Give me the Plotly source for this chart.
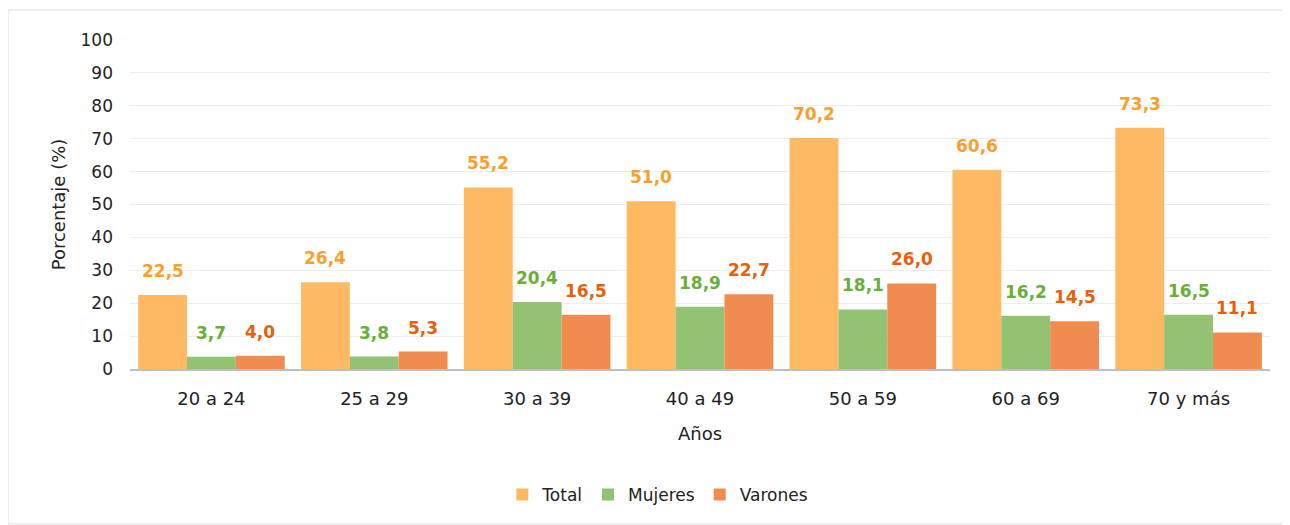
import plotly.graph_objects as go

categories = ["20 a 24", "25 a 29", "30 a 39", "40 a 49", "50 a 59", "60 a 69", "70 y más"]
total = [22.5, 26.4, 55.2, 51.0, 70.2, 60.6, 73.3]
mujeres = [3.7, 3.8, 20.4, 18.9, 18.1, 16.2, 16.5]
varones = [4.0, 5.3, 16.5, 22.7, 26.0, 14.5, 11.1]

series = [
    ("Total", total, "#FFB963", "#F7A030"),
    ("Mujeres", mujeres, "#93C273", "#6AAE3A"),
    ("Varones", varones, "#F08C50", "#E8600A"),
]

FONT = "'DejaVu Sans', sans-serif"
BAR_W = 0.9 / 3

fig = go.Figure()
annotations = []
for j, (name, vals, col, lcol) in enumerate(series):
    fig.add_trace(go.Bar(
        x=categories, y=vals, name=name,
        marker=dict(color=col, line=dict(width=0)),
    ))
    for i, v in enumerate(vals):
        annotations.append(dict(
            x=i + (j - 1) * BAR_W, y=v, xref="x", yref="y",
            text=f"{v:.1f}".replace(".", ","), showarrow=False,
            yanchor="bottom", yshift=12,
            font=dict(color=lcol, size=17, family=FONT, weight="bold"),
        ))

fig.update_layout(
    width=1282, height=517,
    margin=dict(l=122, r=20, t=32, b=156),
    paper_bgcolor="white", plot_bgcolor="white",
    barmode="group", bargap=0.1, bargroupgap=0,
    font=dict(family=FONT, size=17, color="#222"),
    showlegend=True,
    legend=dict(orientation="h", x=0.463, xanchor="center", y=-0.383, yanchor="middle",
                font=dict(size=17, color="#222"), traceorder="normal"),
    annotations=annotations,
    shapes=[dict(type="rect", xref="paper", yref="paper",
                 x0=-0.107, x1=1.0149, y0=-0.471, y1=1.091,
                 line=dict(color="#D9D9D9", width=1), fillcolor="rgba(0,0,0,0)", layer="below")],
)
fig.update_xaxes(
    title=dict(text="Años", font=dict(size=18), standoff=20),
    showline=True, linecolor="#BFBFBF", linewidth=2, ticks="", showgrid=False,
    tickfont=dict(size=18), ticklabelstandoff=12,
)
fig.update_yaxes(
    title=dict(text="Porcentaje (%)", font=dict(size=18), standoff=10),
    range=[0, 100], dtick=10, showgrid=True, gridcolor="#EDEDED", gridwidth=1,
    zeroline=False, showline=False, tickfont=dict(size=17), ticklen=0,
    ticklabelstandoff=16,
)

fig.write_html("out.html")
